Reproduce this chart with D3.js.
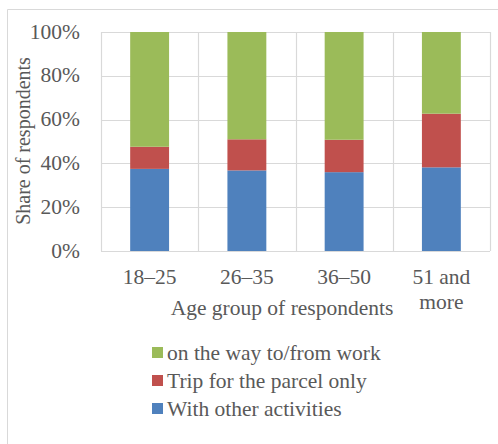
<!DOCTYPE html>
<html>
<head>
<meta charset="utf-8">
<script src="https://cdn.jsdelivr.net/npm/d3@7"></script>
<style>
  body { margin: 0; background: #fff; }
</style>
</head>
<body>
<svg id="chart"></svg>
<script>
// age groups and share of each travel mode (%)
const categories = ["18–25", "26–35", "36–50", "51 and more"];
const withOther = [37.5, 36.8, 36.0, 38.2];
const tripOnly = [10.1, 14.2, 14.8, 24.5];
const wayToWork = [52.4, 49.0, 49.2, 37.3];
const seriesNames = ["With other activities", "Trip for the parcel only", "on the way to/from work"];
const yTicks = [0, 20, 40, 60, 80, 100];

function makeChart() {
    let w = 498;
    let h = 444;
    let margin = { left: 101, top: 32, right: 8, bottom: 193 };
    let fs = "21.5px";

    let colors = ["#4f81bd", "#c0504d", "#9bbb59"];

    let svg = d3.select("#chart")
        .attr("width", w)
        .attr("height", h);

    // outer frame (cut off at right and bottom)
    svg.append("path")
        .attr("d", "M7.5,444 V9.5 H498")
        .attr("fill", "none")
        .attr("stroke", "#d9d9d9")
        .attr("stroke-width", 1);

    let x = d3.scaleBand()
        .domain(categories)
        .range([margin.left, w - margin.right]);

    let y = d3.scaleLinear()
        .domain([0, 100])
        .range([h - margin.bottom, margin.top]);

    // horizontal gridlines
    svg.selectAll(".hgrid")
        .data(yTicks)
        .enter()
        .append("line")
        .attr("x1", margin.left)
        .attr("x2", w - margin.right)
        .attr("y1", d => Math.round(y(d)) + 0.5)
        .attr("y2", d => Math.round(y(d)) + 0.5)
        .attr("stroke", "#d9d9d9")
        .attr("stroke-width", 1.2);

    // vertical gridlines at category boundaries
    let bounds = categories.map(c => x(c)).concat([x.range()[1]]);
    svg.selectAll(".vgrid")
        .data(bounds)
        .enter()
        .append("line")
        .attr("x1", d => Math.round(d) + 0.5)
        .attr("x2", d => Math.round(d) + 0.5)
        .attr("y1", y(100))
        .attr("y2", y(0))
        .attr("stroke", "#d9d9d9")
        .attr("stroke-width", 1.2);

    let rows = categories.map((c, i) => ({
        cat: c,
        s0: withOther[i],
        s1: tripOnly[i],
        s2: wayToWork[i]
    }));
    let stack = d3.stack().keys(["s0", "s1", "s2"]);
    let layers = stack(rows);

    let barW = x.bandwidth() * 0.4;

    svg.selectAll(".layer")
        .data(layers)
        .enter()
        .append("g")
        .attr("fill", (d, i) => colors[i])
        .selectAll("rect")
        .data(d => d)
        .enter()
        .append("rect")
        .attr("x", d => x(d.data.cat) + (x.bandwidth() - barW) / 2)
        .attr("width", barW)
        .attr("y", d => y(d[1]))
        .attr("height", d => y(d[0]) - y(d[1]));

    // y tick labels
    svg.selectAll(".ytick")
        .data(yTicks)
        .enter()
        .append("text")
        .attr("x", 80)
        .attr("y", d => y(d) + 6.5)
        .attr("text-anchor", "end")
        .attr("font-family", "Liberation Serif")
        .attr("font-size", fs)
        .attr("fill", "#595959")
        .text(d => d + "%");

    // x tick labels (wrap "51 and more")
    let xl = svg.selectAll(".xtick")
        .data(categories)
        .enter()
        .append("text")
        .attr("text-anchor", "middle")
        .attr("font-family", "Liberation Serif")
        .attr("font-size", fs)
        .attr("fill", "#595959")
        .attr("y", 284);
    xl.each(function(d) {
        let lines = d === "51 and more" ? ["51 and", "more"] : [d];
        let t = d3.select(this);
        lines.forEach((ln, k) => {
            t.append("tspan")
                .attr("x", x(d) + x.bandwidth() / 2)
                .attr("dy", k === 0 ? 0 : 25)
                .text(ln);
        });
    });

    // axis titles
    svg.append("text")
        .attr("x", 282)
        .attr("y", 315)
        .attr("text-anchor", "middle")
        .attr("font-family", "Liberation Serif")
        .attr("font-size", fs)
        .attr("fill", "#595959")
        .text("Age group of respondents");

    svg.append("text")
        .attr("transform", "translate(30,141) rotate(-90)")
        .attr("text-anchor", "middle")
        .attr("font-family", "Liberation Serif")
        .attr("font-size", "20px")
        .attr("fill", "#595959")
        .text("Share of respondents");

    // legend, top to bottom: green, red, blue
    let legendOrder = [2, 1, 0];
    let lg = svg.selectAll(".legend")
        .data(legendOrder)
        .enter()
        .append("g")
        .attr("transform", (d, i) => "translate(152," + (360 + i * 28) + ")");

    lg.append("rect")
        .attr("x", 0)
        .attr("y", -13)
        .attr("width", 11)
        .attr("height", 11)
        .attr("fill", d => colors[d]);

    lg.append("text")
        .attr("x", 15)
        .attr("y", 0)
        .attr("font-family", "Liberation Serif")
        .attr("font-size", fs)
        .attr("fill", "#595959")
        .text(d => seriesNames[d]);
}

makeChart();
</script>
</body>
</html>
